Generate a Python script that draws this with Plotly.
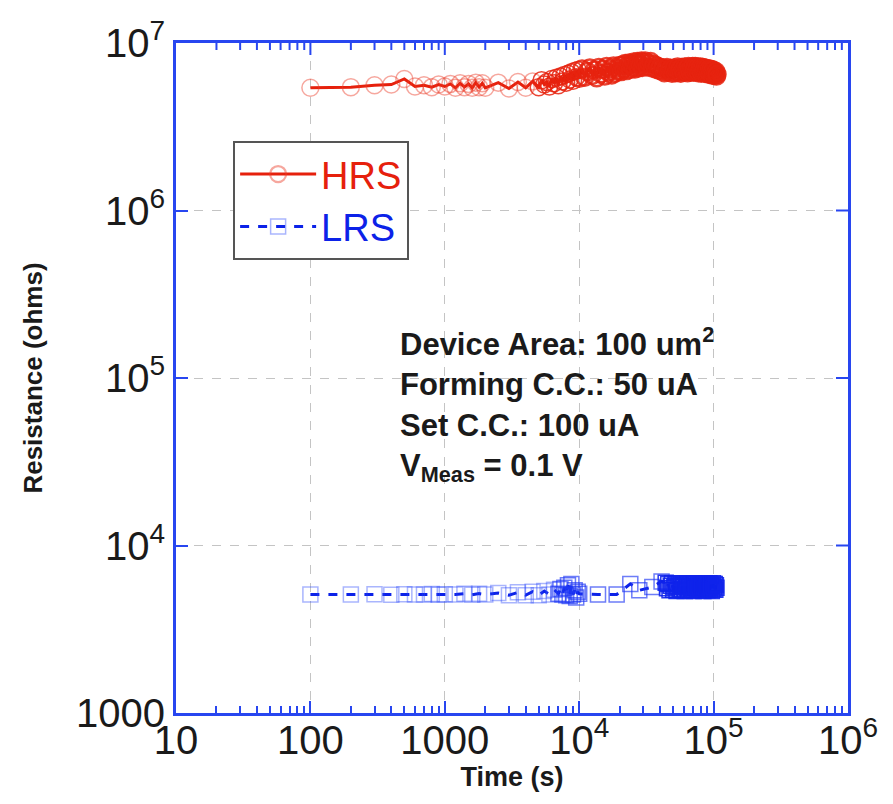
import plotly.graph_objects as go

# ---- data ----
hrs_time = [100, 200, 300, 400, 500, 600, 700, 800, 900, 1000,
            1100, 1200, 1300, 1400, 1500, 1600, 1700, 1800, 1900, 2000,
            2500, 3000, 3500, 4000, 4500,
            5000, 5250, 5500, 5750, 6000, 6250, 6500, 6750, 7000, 7250,
            7500, 7750, 8000, 8250, 8500, 8750, 9000, 9250, 9500, 9750, 10000,
            10500, 11000, 11500, 12000, 12500, 13000, 13500, 14000, 14500, 15000,
            15500, 16000, 16500, 17000, 17500, 18000, 18500, 19000, 19500, 20000,
            20500, 21000, 21500, 22000, 22500, 23000, 23500, 24000, 24500, 25000,
            25500, 26000, 26500, 27000, 27500, 28000, 28500, 29000, 29500, 30000,
            31000, 32000, 33000, 34000, 35000, 36000, 37000, 38000, 39000, 40000,
            41000, 42000, 43000, 44000, 45000, 46000, 47000, 48000, 49000, 50000,
            51000, 52000, 53000, 54000, 55000, 56000, 57000, 58000, 59000, 60000,
            61000, 62000, 63000, 64000, 65000, 66000, 67000, 68000, 69000, 70000,
            71000, 72000, 73000, 74000, 75000, 76000, 77000, 78000, 79000, 80000,
            81000, 82000, 83000, 84000, 85000, 86000, 87000, 88000, 89000, 90000,
            91000, 92000, 93000, 94000, 95000, 96000, 97000, 98000, 99000, 100000,
            101000, 102000, 103000, 104000, 105000, 106000]
hrs_res = [5.40e6, 5.45e6, 5.60e6, 5.65e6, 6.10e6, 5.50e6, 5.60e6, 5.45e6, 5.65e6, 5.50e6,
           5.70e6, 5.40e6, 5.75e6, 5.45e6, 5.70e6, 5.40e6, 5.80e6, 5.45e6, 5.75e6, 5.40e6,
           5.80e6, 5.35e6, 5.85e6, 5.40e6, 5.90e6,
           5.45e6, 6.00e6, 5.65e6, 5.85e6, 5.50e6, 6.10e6, 5.75e6, 6.20e6, 5.60e6, 6.30e6,
           5.90e6, 6.45e6, 5.80e6, 6.55e6, 6.05e6, 6.70e6, 5.95e6, 6.80e6, 6.25e6, 6.90e6, 6.15e6,
           7.00e6, 6.25e6, 6.75e6, 7.10e6, 6.40e6, 6.90e6, 6.20e6, 7.15e6, 6.55e6, 6.95e6,
           6.35e6, 7.25e6, 6.70e6, 7.00e6, 6.45e6, 7.30e6, 6.60e6, 7.05e6, 6.80e6, 7.35e6,
           6.75e6, 7.40e6, 7.00e6, 7.55e6, 6.85e6, 7.30e6, 7.60e6, 6.95e6, 7.45e6, 7.15e6,
           7.70e6, 7.00e6, 7.50e6, 7.75e6, 7.10e6, 7.60e6, 7.35e6, 7.80e6, 7.15e6, 7.65e6,
           7.80e6, 7.20e6, 7.55e6, 7.75e6, 7.10e6, 7.45e6, 7.00e6, 7.30e6, 6.90e6, 7.15e6,
           6.80e6, 7.10e6, 6.65e6, 6.95e6, 7.15e6, 6.70e6, 6.90e6, 7.05e6, 6.60e6, 6.95e6,
           7.10e6, 6.65e6, 6.90e6, 7.20e6, 6.70e6, 7.00e6, 6.60e6, 7.15e6, 6.85e6, 6.70e6,
           7.20e6, 6.75e6, 7.00e6, 6.65e6, 7.25e6, 6.90e6, 6.70e6, 7.15e6, 6.80e6, 7.25e6,
           6.70e6, 7.05e6, 7.25e6, 6.75e6, 6.95e6, 7.20e6, 6.65e6, 7.00e6, 6.85e6, 7.20e6,
           6.60e6, 6.95e6, 7.15e6, 6.70e6, 6.90e6, 7.10e6, 6.60e6, 6.85e6, 7.05e6, 6.55e6,
           6.90e6, 6.65e6, 7.00e6, 6.50e6, 6.80e6, 6.95e6, 6.45e6, 6.75e6, 6.90e6, 6.50e6,
           6.70e6, 6.40e6, 6.60e6, 6.75e6, 6.35e6, 6.50e6]

lrs_time = [100, 200, 300, 400, 500, 600, 700, 800, 900, 1000,
            1200, 1400, 1600, 1800, 2000, 2500, 3000, 3500, 4000, 4500,
            5000, 5500, 6000, 6500,
            7000, 7250, 7500, 7750, 8000, 8250, 8500, 8750, 9000, 9250, 9500, 9750, 10000,
            13800, 19000, 24000, 28000, 35000, 41000, 44000,
            45000, 46000, 47000, 48000, 49000, 50000, 51000, 52000, 53000, 54000,
            55000, 56000, 57000, 58000, 59000, 60000, 61000, 62000, 63000, 64000,
            65000, 66000, 67000, 68000, 69000, 70000, 71000, 72000, 73000, 74000,
            75000, 76000, 77000, 78000, 79000, 80000, 81000, 82000, 83000, 84000,
            85000, 86000, 87000, 88000, 89000, 90000, 91000, 92000, 93000, 94000,
            95000, 96000, 97000, 98000, 99000, 100000, 101000, 102000, 103000, 104000, 105000]
lrs_res = [5100, 5100, 5120, 5080, 5120, 5100, 5090, 5130, 5080, 5120,
           5100, 5150, 5080, 5160, 5100, 5200, 5050, 5250, 5050, 5300,
           5050, 5350, 5100, 5450,
           5150, 5500, 5100, 5600, 5050, 5800, 5000, 5900, 5100, 5400, 4900, 5300, 5150,
           5100, 5100, 5900, 5400, 5650, 6100, 6000,
           5550, 5900, 5400, 5750, 5950, 5450, 5650, 5850, 5350, 5700,
           5950, 5500, 5800, 5400, 5650, 5900, 5350, 5750, 5550, 5950,
           5450, 5700, 5900, 5400, 5600, 5850, 5350, 5750, 5950, 5500,
           5650, 5900, 5400, 5800, 5550, 5950, 5450, 5700, 5850, 5350,
           5750, 5950, 5500, 5650, 5900, 5400, 5800, 5550, 5950, 5450,
           5700, 5850, 5350, 5750, 5950, 5500, 5650, 5900, 5450, 5800, 5600]

x_tickvals = [10, 100, 1000, 1e4, 1e5, 1e6]
x_ticktext = ["10", "100", "1000", "10<sup>4</sup>", "10<sup>5</sup>", "10<sup>6</sup>"]
y_tickvals = [1000, 1e4, 1e5, 1e6, 1e7]
y_ticktext = ["1000", "10<sup>4</sup>", "10<sup>5</sup>", "10<sup>6</sup>", "10<sup>7</sup>"]

RED = "#e6200c"
BLUE = "#0c22e8"
FRAME = "#2846f0"
FONT = "Liberation Sans, Arial, sans-serif"

minor_vals = [m * 10 ** e for e in range(1, 6) for m in range(2, 10)]

# plot-area size in px (used only to express tick lengths in paper units)
PLOT_W, PLOT_H = 893 - 176 - 45, 804 - 43 - 91
MAJOR_LEN, MINOR_LEN = 12, 7

# marker stroke is faint where points are sparse, strong where they pile up
hrs_mcolor = ["rgba(235,60,40,0.45)" if t < 5000 else "rgba(230,35,15,0.85)" for t in hrs_time]
hrs_mwidth = [1.5 if t < 10000 else 2.5 for t in hrs_time]
lrs_mcolor = ["rgba(40,70,250,0.40)" if t < 7000 else
              ("rgba(30,55,245,0.65)" if t < 44000 else "rgba(15,35,235,0.9)") for t in lrs_time]

fig = go.Figure()
fig.add_trace(go.Scatter(
    x=hrs_time, y=hrs_res, mode="lines+markers",
    name="<span style='color:%s'>HRS</span>" % RED,
    line=dict(color=RED, width=3),
    marker=dict(symbol="circle-open", size=17, color=hrs_mcolor,
                line=dict(width=hrs_mwidth)),
))
fig.add_trace(go.Scatter(
    x=lrs_time, y=lrs_res, mode="lines+markers",
    name="<span style='color:%s'>LRS</span>" % BLUE,
    line=dict(color=BLUE, width=3, dash="dash"),
    marker=dict(symbol="square-open", size=15, color=lrs_mcolor, line=dict(width=1.5)),
))

tickfont = dict(family=FONT, size=40, color="#1a1a1a")
minor_x = dict(tickmode="array", tickvals=minor_vals, ticks="inside", ticklen=MINOR_LEN,
               tickwidth=2, tickcolor=FRAME, showgrid=False)

fig.update_layout(
    xaxis=dict(type="log", range=[1, 6], showline=True, linecolor=FRAME, linewidth=3,
               mirror=True, ticks="inside", ticklen=MAJOR_LEN, tickwidth=2, tickcolor=FRAME,
               showgrid=True, gridcolor="#c4c4c4", gridwidth=1, griddash="dash",
               zeroline=False, tickmode="array", tickvals=x_tickvals, ticktext=x_ticktext,
               tickfont=tickfont, ticklabelstandoff=-10, minor=minor_x,
               title=dict(text="<b>Time (s)</b>",
                          font=dict(family=FONT, size=27, color="#1a1a1a"), standoff=6)),
    yaxis=dict(type="log", range=[3, 7], showline=True, linecolor=FRAME, linewidth=3,
               mirror=True, ticks="inside", ticklen=MAJOR_LEN, tickwidth=2, tickcolor=FRAME,
               showgrid=True, gridcolor="#c4c4c4", gridwidth=1, griddash="dash",
               zeroline=False, tickmode="array", tickvals=y_tickvals, ticktext=y_ticktext,
               tickfont=tickfont,
               title=dict(text="<b>Resistance (ohms)</b>",
                          font=dict(family=FONT, size=26, color="#1a1a1a"), standoff=26)),
)

# mirrored ticks on the top (major + minor) and right (major) edges of the frame
for v in x_tickvals[1:-1]:
    fig.add_shape(type="line", xref="x", yref="paper", x0=v, x1=v,
                  y0=1, y1=1 - MAJOR_LEN / PLOT_H, line=dict(color=FRAME, width=2))
for v in minor_vals:
    fig.add_shape(type="line", xref="x", yref="paper", x0=v, x1=v,
                  y0=1, y1=1 - MINOR_LEN / PLOT_H, line=dict(color=FRAME, width=2))
for v in y_tickvals[1:-1]:
    fig.add_shape(type="line", xref="paper", yref="y", x0=1, x1=1 - MAJOR_LEN / PLOT_W,
                  y0=v, y1=v, line=dict(color=FRAME, width=2))

fig.add_annotation(
    xref="paper", yref="paper", x=0.33, y=0.587, xanchor="left", yanchor="top",
    align="left", showarrow=False,
    text="<b>Device Area: 100 um<sup>2</sup><br>Forming C.C.: 50 uA<br>"
         "Set C.C.: 100 uA<br>V<sub>Meas</sub> = 0.1 V</b>",
    font=dict(family=FONT, size=31, color="#1a1a1a"),
)

fig.update_layout(
    width=893, height=804,
    margin=dict(l=176, r=45, t=43, b=91, autoexpand=False),
    paper_bgcolor="white", plot_bgcolor="white",
    showlegend=True,
    legend=dict(x=0.085, y=0.854, xanchor="left", yanchor="top",
                bgcolor="white", bordercolor="#555555", borderwidth=2,
                font=dict(family=FONT, size=38), itemwidth=76,
                itemclick=False),
)

fig.write_html("out.html")
